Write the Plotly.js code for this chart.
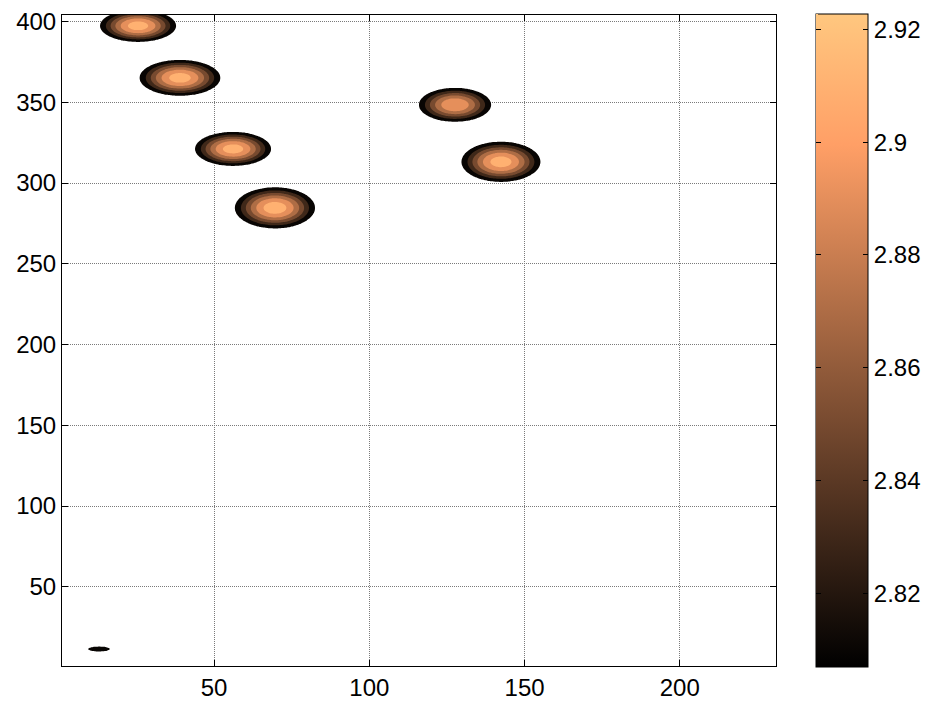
<!DOCTYPE html>
<html>
<head>
<meta charset="utf-8">
<script src="https://cdn.plot.ly/plotly-3.0.1.min.js"></script>
<style>
  html, body { margin: 0; padding: 0; background: #ffffff; }
  #chart { width: 931px; height: 705px; }
</style>
</head>
<body>
<div id="chart"></div>
<script>
// ---- surface description: each peak by centre, half-extent down to the floor, and peak value ----
const peakX       = [25.5, 39.0, 56.1, 69.6, 127.6, 142.4, 12.9];
const peakY       = [397.3, 365.1, 321.1, 284.6, 348.4, 313.1, 11.5];
const peakRadiusX = [12.8, 13.6, 12.8, 13.5, 12.2, 13.3, 4.3];
const peakRadiusY = [10.4, 11.6, 11.0, 13.3, 11.0, 13.0, 1.85];
const peakValue   = [2.921, 2.921, 2.921, 2.9227, 2.9095, 2.921, 2.822];

const zFloor = 2.807;     // lowest value of the surface
const zTop   = 2.9227;    // highest value of the surface

// sampling grid
const gridXStart = 1, gridXEnd = 231;
const gridYStart = 1, gridYEnd = 404;
const gridStep = 0.5;

// filled contour levels
const levelStart = 2.81, levelEnd = 2.91, levelSize = 0.02;

// tick labels
const xTickVals = [50, 100, 150, 200];
const yTickVals = [50, 100, 150, 200, 250, 300, 350, 400];
const cbTickVals = [2.82, 2.84, 2.86, 2.88, 2.9, 2.92];
const cbTickText = ['2.82', '2.84', '2.86', '2.88', '2.9', '2.92'];

// ---- copper colormap ----
function copper(v) {
  let t = (v - zFloor) / (zTop - zFloor);
  t = Math.max(0, Math.min(1, t));
  const r = Math.min(1, 1.25 * t) * 255;
  const g = 0.7812 * t * 255;
  const b = 0.4975 * t * 255;
  return 'rgb(' + r.toFixed(1) + ',' + g.toFixed(1) + ',' + b.toFixed(1) + ')';
}
const copperScale = [
  [0, copper(zFloor)],
  [0.8, copper(zFloor + 0.8 * (zTop - zFloor))],
  [1, copper(zTop)]
];

// ---- build the surface on the grid (smooth bell-shaped peaks) ----
const xs = [], ys = [];
for (let x = gridXStart; x <= gridXEnd + 1e-9; x += gridStep) xs.push(x);
for (let y = gridYStart; y <= gridYEnd + 1e-9; y += gridStep) ys.push(y);

const z = ys.map(function (y) {
  return xs.map(function (x) {
    let v = zFloor;
    for (let k = 0; k < peakX.length; k++) {
      const dx = (x - peakX[k]) / peakRadiusX[k];
      const dy = (y - peakY[k]) / peakRadiusY[k];
      const r2 = dx * dx + dy * dy;
      if (r2 < 1) {
        const h = zFloor + (peakValue[k] - zFloor) * Math.pow(1 - r2, 1.5);
        if (h > v) v = h;
      }
    }
    return v;
  });
});

// ---- band colours: below the first level transparent, each band coloured by its lower level ----
const nLevels = Math.round((levelEnd - levelStart) / levelSize) + 1;
const bandScale = [[0, 'rgba(255,255,255,0)']];
for (let k = 0; k < nLevels; k++) {
  bandScale.push([(k + 1) / nLevels, copper(levelStart + k * levelSize)]);
}

const tickFont = { family: 'Liberation Sans, Arial, sans-serif', size: 24, color: '#000000' };

const contourTrace = {
  type: 'contour',
  x: xs,
  y: ys,
  z: z,
  autocontour: false,
  contours: { start: levelStart, end: levelEnd, size: levelSize, coloring: 'fill', showlines: false },
  line: { width: 0 },
  colorscale: bandScale,
  showscale: false,
  hoverinfo: 'skip'
};

const barCommon = {
  x: 1.056,
  xanchor: 'left',
  xpad: 0,
  ypad: 0,
  y: 0.5,
  yanchor: 'middle',
  thicknessmode: 'pixels',
  len: 653,
  lenmode: 'pixels',
  borderwidth: 0,
  tickmode: 'array',
  tickvals: cbTickVals,
  ticktext: cbTickText,
  ticklen: 5,
  tickcolor: '#000000',
  tickfont: tickFont
};

// continuous copper colour bar with labels and right-edge ticks
const colorbarTrace = {
  type: 'scatter',
  mode: 'markers',
  x: [null, null],
  y: [null, null],
  hoverinfo: 'skip',
  showlegend: false,
  marker: {
    color: [zFloor, zTop],
    colorscale: copperScale,
    cmin: zFloor,
    cmax: zTop,
    showscale: true,
    colorbar: Object.assign({}, barCommon, {
      thickness: 52,
      outlinewidth: 1,
      outlinecolor: '#000000',
      ticks: 'inside'
    })
  }
};

// zero-width bar on the left edge, only for the left-edge tick marks
const colorbarTicksLeft = {
  type: 'scatter',
  mode: 'markers',
  x: [null, null],
  y: [null, null],
  hoverinfo: 'skip',
  showlegend: false,
  marker: {
    color: [zFloor, zTop],
    colorscale: copperScale,
    cmin: zFloor,
    cmax: zTop,
    showscale: true,
    colorbar: Object.assign({}, barCommon, {
      thickness: 0,
      outlinewidth: 0,
      ticks: 'outside',
      showticklabels: false
    })
  }
};

const axisCommon = {
  showline: true,
  linecolor: '#000000',
  linewidth: 1,
  mirror: 'ticks',
  ticks: 'inside',
  ticklen: 6,
  tickcolor: '#000000',
  tickmode: 'array',
  showgrid: true,
  gridcolor: '#7a7a7a',
  griddash: '1px,1px',
  gridwidth: 1,
  zeroline: false,
  tickfont: tickFont
};

const layout = {
  width: 931,
  height: 705,
  margin: { l: 62, r: 155, t: 15, b: 39, autoexpand: false },
  paper_bgcolor: '#ffffff',
  plot_bgcolor: '#ffffff',
  showlegend: false,
  xaxis: Object.assign({}, axisCommon, { range: [gridXStart, gridXEnd], tickvals: xTickVals }),
  yaxis: Object.assign({}, axisCommon, { range: [gridYStart, gridYEnd], tickvals: yTickVals })
};

Plotly.newPlot('chart', [contourTrace, colorbarTrace, colorbarTicksLeft], layout,
  { displayModeBar: false, staticPlot: true });
</script>
</body>
</html>
